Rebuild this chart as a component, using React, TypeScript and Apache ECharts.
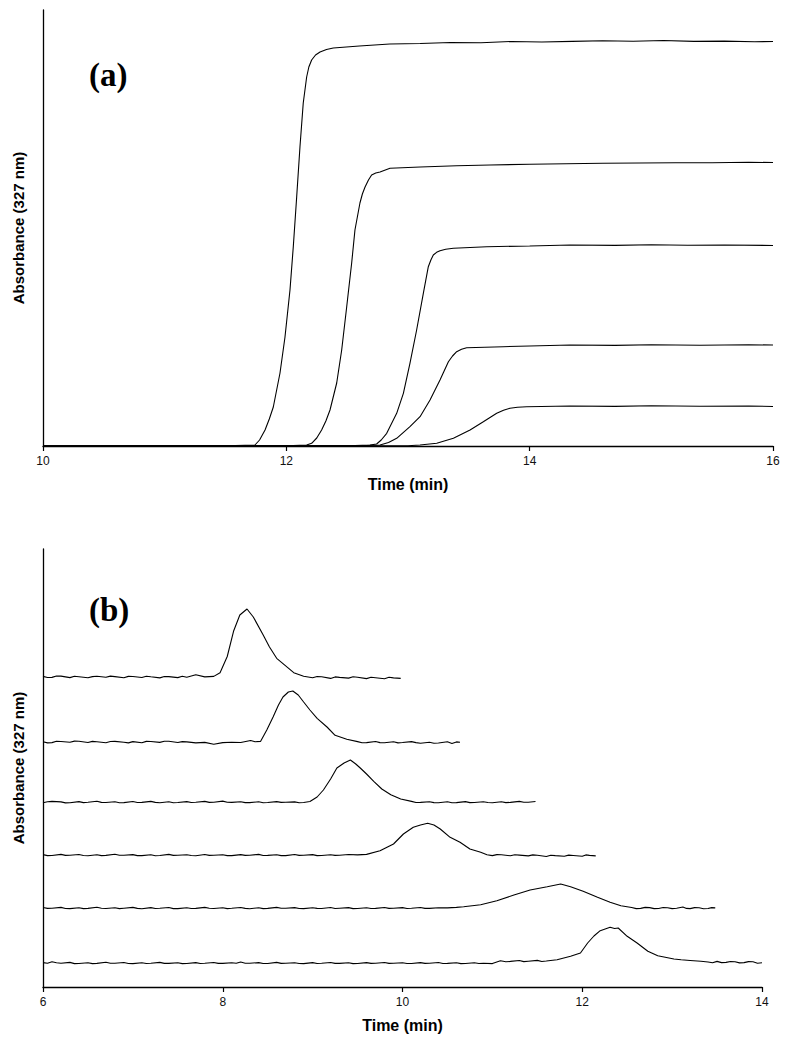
import React, { useEffect, useRef } from "react";
import * as echarts from "echarts";

// ---------- Panel (a): breakthrough curves  [time (min), absorbance (px units above baseline)]
const aTicks = [10, 12, 14, 16];
const curveA1: number[][] = [
  [10, 0], [11.5, 0.3], [11.742, 1], [11.78, 6], [11.825, 16], [11.86, 27], [11.893, 39], [11.948, 73],
  [11.989, 109], [12.03, 156], [12.057, 199], [12.085, 249], [12.112, 299], [12.139, 343], [12.167, 369],
  [12.185, 379], [12.208, 386], [12.24, 391], [12.277, 394], [12.33, 396.5], [12.386, 398], [12.6, 400],
  [12.85, 402], [13.1, 402.5], [13.35, 403.5], [13.6, 403.3], [13.85, 404.5], [14.1, 404], [14.35, 404.6],
  [14.6, 405.2], [14.85, 404.8], [15.1, 405.5], [15.35, 404.6], [15.6, 404.9], [15.85, 404.3], [16, 404.5],
];
const curveA2: number[][] = [
  [10, 0], [12.0, 0.3], [12.167, 1], [12.208, 2.7], [12.25, 8], [12.29, 16], [12.325, 25], [12.359, 36],
  [12.414, 63], [12.455, 96], [12.496, 139], [12.537, 183], [12.564, 216], [12.605, 243], [12.625, 252],
  [12.647, 259], [12.675, 266], [12.701, 271], [12.735, 273], [12.77, 274], [12.852, 277.7], [13.1, 279],
  [13.4, 280.2], [13.674, 281], [14.0, 281.8], [14.3, 282.3], [14.6, 282.7], [14.9, 283], [15.2, 283.3],
  [15.5, 283.2], [15.8, 283.7], [16, 283.5],
];
const curveA3: number[][] = [
  [10, 0], [12.5, 0.3], [12.688, 1], [12.742, 2], [12.78, 6], [12.825, 12.7], [12.907, 32.7], [12.962, 52.7],
  [13.016, 82.7], [13.071, 116], [13.126, 152.7], [13.167, 179.3], [13.188, 186], [13.208, 191],
  [13.235, 193.7], [13.263, 195.3], [13.31, 196.7], [13.373, 197.7], [13.647, 199.3], [14.0, 200],
  [14.332, 201], [14.7, 200.6], [15.0, 201.2], [15.3, 200.8], [15.6, 201], [16, 200.5],
];
const curveA4: number[][] = [
  [10, 0], [12.6, 0.3], [12.77, 1], [12.84, 3.5], [12.907, 7.7], [13.016, 19.3], [13.099, 29.3], [13.181, 46],
  [13.263, 66], [13.332, 84.3], [13.366, 90], [13.4, 94.3], [13.44, 96.8], [13.482, 98.3], [13.783, 99.3],
  [14.0, 100], [14.332, 101], [14.7, 100.6], [15.0, 101.2], [15.4, 100.8], [15.8, 101.2], [16, 101],
];
const curveA5: number[][] = [
  [10, 0], [13.0, 0.3], [13.099, 1], [13.236, 2.7], [13.373, 7.7], [13.51, 16], [13.619, 24.3], [13.729, 32.7],
  [13.785, 35.8], [13.838, 37.7], [13.9, 38.8], [13.975, 39.3], [14.332, 40], [14.7, 39.6], [15.0, 40.2],
  [15.4, 39.8], [15.8, 40], [16, 39.5],
];
const curvesA = [curveA1, curveA2, curveA3, curveA4, curveA5];

// ---------- Panel (b): elution peaks, heights above each trace's own baseline
const bTicks = [6, 8, 10, 12, 14];
const traceOffsetsB = [310, 245, 185, 132, 79, 24];
const traceB1: number[][] = [
  [6.0, 0.6], [6.05, -0.5], [6.1, -0.4], [6.15, 1.0], [6.2, 0.9], [6.3, -0.6], [6.35, 0.7], [6.4, 0.3], [6.5, -0.8],
  [6.55, 0.4], [6.6, 0.8], [6.7, -0.2], [6.75, 0.9], [6.8, 0.4], [6.9, -0.7], [6.95, 0.6], [7.0, 0.5], [7.1, -0.5],
  [7.15, 0.8], [7.2, 0.2], [7.3, -0.9], [7.35, 0.5], [7.4, 0.4], [7.5, -0.6], [7.55, 0.7], [7.6, -0.3], [7.7, 2.2],
  [7.8, 0.1], [7.9, 0.6], [7.97, 4.3], [8.05, 20.5], [8.12, 45.7], [8.19, 62], [8.27, 68], [8.34, 60], [8.45, 42],
  [8.52, 30], [8.6, 18.7], [8.72, 9.7], [8.79, 4.3], [8.9, 0.7], [9.0, -0.8], [9.05, 0.5], [9.1, 0.2], [9.2, -1.4],
  [9.25, 0.1], [9.3, -0.4], [9.4, -1.1], [9.45, 0.2], [9.5, -0.2], [9.6, -1.6], [9.65, -0.2], [9.7, -0.7],
  [9.8, -1.7], [9.85, -0.3], [9.9, -0.9], [9.98, -1.4],
];
const traceB2: number[][] = [
  [6.0, 0.3], [6.05, -0.9], [6.1, -0.6], [6.15, 0.7], [6.2, 0.5], [6.3, -0.3], [6.35, 0.9], [6.4, 0.8], [6.5, -0.5],
  [6.55, 0.6], [6.6, 0.2], [6.7, -0.7], [6.75, 0.5], [6.8, 0.6], [6.9, -0.2], [6.95, -0.9], [7.0, 0.4], [7.1, -0.8],
  [7.15, 0.6], [7.2, 0.5], [7.3, -0.4], [7.35, 0.8], [7.4, 0.7], [7.5, -0.5], [7.55, 0.4], [7.6, 0.1], [7.7, -0.9],
  [7.8, -0.4], [7.9, -2.2], [8.0, -0.6], [8.1, -0.2], [8.2, -0.5], [8.31, 1.5], [8.36, 0.2], [8.42, 0.6],
  [8.49, 12], [8.56, 25], [8.62, 37], [8.67, 45], [8.73, 50], [8.78, 51], [8.84, 47], [8.9, 40], [8.97, 32],
  [9.05, 23.7], [9.16, 15], [9.25, 6.7], [9.38, 2.7], [9.5, 0.4], [9.55, -0.7], [9.6, -0.6], [9.7, 0.5],
  [9.75, -0.6], [9.8, -0.8], [9.9, 0.2], [9.95, -0.9], [10.0, -0.5], [10.1, 0.4], [10.15, -0.6], [10.2, -1.2],
  [10.3, -0.3], [10.35, -1.2], [10.4, -1.0], [10.5, 0.3], [10.55, -1.4], [10.6, 0.1], [10.64, -0.2],
];
const traceB3: number[][] = [
  [6.0, -0.8], [6.05, 0.3], [6.1, 0.6], [6.2, 0.1], [6.25, -0.9], [6.3, -0.7], [6.4, 0.4], [6.45, -0.6],
  [6.5, -0.3], [6.6, 0.8], [6.65, -0.4], [6.7, -0.5], [6.8, 0.2], [6.85, -0.7], [6.9, -0.6], [7.0, 0.5],
  [7.05, -0.5], [7.1, -0.4], [7.2, 0.6], [7.25, -0.4], [7.3, -0.8], [7.4, 0.3], [7.45, -0.7], [7.5, -0.5],
  [7.6, 0.4], [7.65, -0.5], [7.7, -0.3], [7.8, 0.6], [7.85, -0.4], [7.9, -0.2], [8.0, 0.9], [8.05, -0.3],
  [8.1, -0.4], [8.2, 0.3], [8.25, -0.6], [8.3, -0.6], [8.4, 0.2], [8.45, -0.7], [8.5, -0.5], [8.6, 0.4],
  [8.65, -0.4], [8.7, -0.3], [8.8, 0.1], [8.85, -0.8], [8.9, -0.5], [8.97, 0.5], [9.05, 5], [9.12, 12], [9.2, 23],
  [9.27, 34], [9.35, 39], [9.42, 42], [9.48, 38], [9.53, 34], [9.6, 28], [9.68, 20.7], [9.77, 13], [9.87, 7.3],
  [9.98, 3], [10.1, 0.6], [10.15, -0.5], [10.2, -0.4], [10.3, 0.3], [10.35, -0.6], [10.4, -0.8], [10.5, 0.2],
  [10.55, -0.8], [10.6, -0.6], [10.7, 0.4], [10.75, -0.6], [10.8, -0.5], [10.9, 0.3], [10.95, -0.5], [11.0, -0.7],
  [11.1, 0.2], [11.15, -0.6], [11.2, -0.4], [11.3, 0.6], [11.35, -0.3], [11.4, -0.2], [11.48, 0.5],
];
const traceB4: number[][] = [
  [6.0, 0.4], [6.05, -0.6], [6.1, -0.5], [6.2, 0.6], [6.25, -0.4], [6.3, -0.2], [6.4, 0.5], [6.45, -0.5],
  [6.5, -0.7], [6.6, 0.3], [6.65, -0.6], [6.7, -0.4], [6.8, 0.7], [6.85, -0.3], [6.9, -0.3], [7.0, 0.4],
  [7.05, -0.6], [7.1, -0.6], [7.2, 0.2], [7.25, -0.7], [7.3, -0.5], [7.4, 0.6], [7.45, -0.4], [7.5, -0.2],
  [7.6, 0.3], [7.65, -0.5], [7.7, -0.8], [7.8, 0.5], [7.85, -0.4], [7.9, -0.3], [8.0, 0.2], [8.05, -0.6],
  [8.1, -0.6], [8.2, 0.4], [8.25, -0.4], [8.3, -0.2], [8.4, 0.6], [8.45, -0.5], [8.5, -0.4], [8.6, 0.3],
  [8.65, -0.6], [8.7, -0.6], [8.8, 0.5], [8.85, -0.4], [8.9, -0.3], [9.0, 0.4], [9.05, -0.6], [9.1, -0.5],
  [9.2, 0.3], [9.25, -0.4], [9.3, -0.2], [9.4, 0.5], [9.5, 0.1], [9.6, 0.6], [9.75, 4.3], [9.9, 11], [10.01, 21],
  [10.12, 27.7], [10.2, 30], [10.28, 31.7], [10.35, 30], [10.42, 26], [10.53, 17.7], [10.64, 12.7], [10.75, 6],
  [10.87, 2.7], [10.94, 0.3], [11.0, -0.6], [11.05, 0.4], [11.1, 0.2], [11.2, -0.8], [11.25, 0.3], [11.3, -0.1],
  [11.4, -0.9], [11.45, 0.1], [11.5, -0.3], [11.6, -1.5], [11.65, -0.2], [11.7, -0.6], [11.8, -1.2],
  [11.85, -0.1], [11.9, -0.5], [12.0, -1.3], [12.04, 0.1], [12.08, -0.4], [12.15, -0.9],
];
const traceB5: number[][] = [
  [6.0, 0.5], [6.05, -0.4], [6.1, -0.3], [6.2, 0.6], [6.25, -0.5], [6.3, -0.6], [6.4, 0.2], [6.45, -0.6],
  [6.5, -0.4], [6.6, 0.7], [6.65, -0.3], [6.7, -0.5], [6.8, 0.3], [6.85, -0.6], [6.9, -0.2], [7.0, 0.6],
  [7.05, -0.4], [7.1, -0.7], [7.2, 0.4], [7.25, -0.5], [7.3, -0.3], [7.4, 0.5], [7.45, -0.6], [7.5, -0.6],
  [7.6, 0.2], [7.65, -0.5], [7.7, -0.4], [7.8, 0.6], [7.85, -0.3], [7.9, -0.5], [8.0, 0.3], [8.05, -0.6],
  [8.1, -0.3], [8.2, 0.5], [8.25, -0.4], [8.3, -0.7], [8.4, 0.2], [8.45, -0.6], [8.5, -0.4], [8.6, 0.6],
  [8.65, -0.3], [8.7, -0.2], [8.8, 0.4], [8.85, -0.5], [8.9, -0.6], [9.0, 0.3], [9.05, -0.4], [9.1, -0.5],
  [9.2, 0.5], [9.25, -0.5], [9.3, -0.2], [9.4, 0.4], [9.45, -0.6], [9.5, -0.5], [9.6, 0.3], [9.65, -0.5],
  [9.7, -0.4], [9.8, 0.5], [9.85, -0.4], [9.9, -0.3], [10.0, 0.4], [10.05, -0.5], [10.1, -0.2], [10.2, 0.5],
  [10.25, -0.4], [10.3, -0.4], [10.4, 0.3], [10.5, 0.1], [10.6, 0.6], [10.68, 1.3], [10.87, 3.3], [11.05, 7.3],
  [11.24, 13], [11.42, 18], [11.61, 21.3], [11.76, 24], [11.87, 21.3], [12.01, 16.7], [12.17, 10.7],
  [12.31, 5.7], [12.43, 2.3], [12.55, 0.5], [12.6, -0.6], [12.65, -0.4], [12.7, 0.6], [12.75, 0.4],
  [12.8, -0.6], [12.85, -0.5], [12.9, 0.5], [12.95, 0.3], [13.0, -0.6], [13.05, -0.2], [13.12, 1.0],
  [13.16, -0.4], [13.2, -0.6], [13.25, 0.4], [13.3, 0.2], [13.35, -0.7], [13.4, -0.5], [13.44, 0.4],
  [13.48, 0.1],
];
const traceB6: number[][] = [
  [6.0, 0.4], [6.05, -0.3], [6.1, 1.2], [6.15, 0.2], [6.2, -0.3], [6.3, 0.6], [6.35, -0.6], [6.4, -0.5],
  [6.5, 0.3], [6.55, -0.6], [6.6, -0.4], [6.7, 0.8], [6.75, -0.3], [6.8, -0.2], [6.9, 0.5], [6.95, -0.5],
  [7.0, -0.6], [7.1, 0.3], [7.15, -0.5], [7.2, -0.3], [7.3, 0.6], [7.35, -0.4], [7.4, -0.4], [7.5, 0.2],
  [7.55, -0.6], [7.6, -0.5], [7.7, 0.4], [7.75, -0.5], [7.8, -0.2], [7.9, 0.5], [7.95, -0.4], [8.0, -0.4],
  [8.1, 0.3], [8.15, -0.3], [8.2, 1.0], [8.25, -0.2], [8.3, -0.3], [8.4, 0.4], [8.45, -0.5], [8.5, -0.5],
  [8.6, 0.6], [8.65, -0.4], [8.7, -0.2], [8.8, 0.3], [8.85, -0.5], [8.9, -0.6], [9.0, 0.4], [9.05, -0.5],
  [9.1, -0.3], [9.2, 0.5], [9.25, -0.4], [9.3, -0.4], [9.4, 0.2], [9.45, -0.6], [9.5, -0.5], [9.6, 0.4],
  [9.65, -0.4], [9.7, -0.3], [9.8, 0.5], [9.85, -0.4], [9.9, -0.2], [10.0, 0.3], [10.05, -0.5], [10.1, -0.5],
  [10.2, 0.4], [10.25, -0.4], [10.3, -0.3], [10.4, 0.5], [10.45, -0.5], [10.5, -0.4], [10.6, 0.2],
  [10.65, -0.6], [10.7, -0.5], [10.8, 0.3], [10.85, -0.5], [10.9, -0.3], [11.0, -0.6], [11.09, 2.3], [11.15, 1.2],
  [11.2, 1.6], [11.3, 2.5], [11.35, 1.4], [11.4, 1.8], [11.5, 2.6], [11.55, 1.5], [11.6, 2.0], [11.72, 3.3],
  [11.87, 6.7], [11.98, 10], [12.06, 20], [12.13, 27], [12.2, 32.3], [12.31, 35.7], [12.36, 34.5], [12.4, 35],
  [12.5, 26.7], [12.61, 20], [12.73, 11.7], [12.84, 7.3], [13.02, 4], [13.1, 3.2], [13.2, 2.5], [13.32, 1.7],
  [13.4, 1.0], [13.45, 0.2], [13.5, 1.6], [13.55, 0.4], [13.6, 0.6], [13.65, 1.5], [13.7, 1.3], [13.75, 0.1],
  [13.8, 0.4], [13.85, 1.4], [13.9, 1.2], [13.95, -0.2], [14.0, 0.2],
];
const tracesB = [traceB1, traceB2, traceB3, traceB4, traceB5, traceB6];

const panelLabels = ["(a)", "(b)"];
const xTitle = "Time (min)";
const yTitle = "Absorbance (327 nm)";

export default function App() {
  const ref = useRef<HTMLDivElement>(null);
  useEffect(() => {
    document.body.style.margin = "0";
    const chart = echarts.init(ref.current!, undefined, { renderer: "svg" });
    const font = "Liberation Sans, Arial, sans-serif";
    const xAxisCommon = (min: number, max: number, idx: number) => ({
      type: "value",
      gridIndex: idx,
      min,
      max,
      interval: 2,
      name: xTitle,
      nameLocation: "middle",
      nameGap: 30,
      nameTextStyle: { fontFamily: font, fontWeight: "bold", fontSize: 16, color: "#000" },
      axisLine: { show: true, onZero: false, lineStyle: { color: "#000", width: 1.3 } },
      axisTick: { show: true, inside: false, length: 5, lineStyle: { color: "#000", width: 1.2 } },
      axisLabel: { fontFamily: font, fontSize: 12, color: "#111", margin: 9 },
      splitLine: { show: false },
    });
    const yAxisCommon = (max: number, idx: number) => ({
      type: "value",
      gridIndex: idx,
      min: 0,
      max,
      name: yTitle,
      nameLocation: "middle",
      nameGap: 17,
      nameTextStyle: { fontFamily: font, fontWeight: "bold", fontSize: 15, color: "#000" },
      axisLine: { show: true, lineStyle: { color: "#000", width: 1.3 } },
      axisTick: { show: false },
      axisLabel: { show: false },
      splitLine: { show: false },
    });
    const lineStyle = { color: "#000", width: 1.1 };
    const series: any[] = [];
    curvesA.forEach((c) =>
      series.push({
        type: "line",
        xAxisIndex: 0,
        yAxisIndex: 0,
        data: c,
        showSymbol: false,
        symbol: "none",
        lineStyle,
      })
    );
    tracesB.forEach((tr, i) =>
      series.push({
        type: "line",
        xAxisIndex: 1,
        yAxisIndex: 1,
        data: tr.map(([t, h]) => [t, h + traceOffsetsB[i]]),
        showSymbol: false,
        symbol: "none",
        lineStyle,
      })
    );
    chart.setOption({
      animation: false,
      backgroundColor: "#fff",
      grid: [
        { left: 43, top: 10, width: 730, height: 436 },
        { left: 43, top: 549, width: 719, height: 438 },
      ],
      xAxis: [xAxisCommon(aTicks[0], aTicks[aTicks.length - 1], 0), xAxisCommon(bTicks[0], bTicks[bTicks.length - 1], 1)],
      yAxis: [yAxisCommon(436, 0), yAxisCommon(438, 1)],
      series,
      graphic: [
        {
          type: "text",
          left: 89,
          top: 58,
          style: { text: panelLabels[0], fontFamily: "Liberation Serif, Times New Roman, serif", fontWeight: "bold", fontSize: 33, fill: "#000" },
        },
        {
          type: "text",
          left: 89,
          top: 593,
          style: { text: panelLabels[1], fontFamily: "Liberation Serif, Times New Roman, serif", fontWeight: "bold", fontSize: 33, fill: "#000" },
        },
      ],
    });
    return () => chart.dispose();
  }, []);
  return <div ref={ref} style={{ width: 787, height: 1044 }} />;
}
